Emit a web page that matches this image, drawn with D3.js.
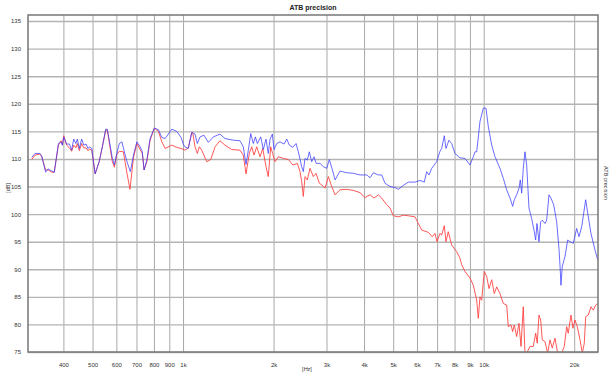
<!DOCTYPE html>
<html>
<head>
<meta charset="utf-8">
<script src="https://cdn.jsdelivr.net/npm/d3@7"></script>
<style>
	body { margin: 0; background: #fff; }
	svg { font-family: Arial, "Liberation Sans", sans-serif; }
	.grid line { stroke: #a8a8a8; }
	.grid .domain { display: none; }
	.ygrid line { stroke: #b4b4b4; stroke-width: 1.4px; }
	.ticklabels text { fill: #333; font-size: 6px; }
	.ticklabels line, .ticklabels .domain { display: none; }
	.frame { fill: none; stroke: #777; stroke-width: 1.5px; }
	.curve { fill: none; stroke-width: 1px; stroke-linejoin: round; }
</style>
</head>
<body>
<div id="chart"></div>
<script>

// frequency response, blue trace
var blueFreq = [314, 322, 334, 339, 349, 356, 366, 373, 385, 393, 397, 401, 410, 419, 426, 433, 440, 445, 452, 460,
	468, 476, 483, 488, 497, 510, 526, 539, 553, 560, 572, 582, 591, 602, 614, 626, 638, 651, 668, 684,
	702, 720, 732, 742, 758, 777, 803, 828, 850, 872, 917, 953, 985, 1002, 1015, 1041, 1069, 1096, 1116, 1139,
	1174, 1214, 1261, 1327, 1379, 1470, 1547, 1586, 1620, 1649, 1679, 1713, 1740, 1767, 1813, 1849, 1888, 1921, 1947, 1982,
	2007, 2049, 2102, 2167, 2213, 2257, 2317, 2376, 2418, 2481, 2512, 2545, 2590, 2630, 2679, 2727, 2772, 2855, 2929, 3006,
	3066, 3147, 3203, 3328, 3503, 3685, 3878, 4083, 4188, 4295, 4462, 4580, 4697, 4880, 5070, 5200, 5402, 5614, 5909, 6141,
	6346, 6463, 6578, 6716, 6977, 7155, 7249, 7396, 7491, 7664, 7825, 8025, 8338, 8667, 9004, 9235, 9356, 9478, 9721, 9970,
	10177, 10358, 10632, 10904, 11329, 11619, 11926, 12232, 12486, 12642, 12874, 13104, 13235, 13378, 13542, 13718, 13899, 14145, 14440, 14733,
	14890, 15038, 15272, 15473, 15663, 15991, 16198, 16488, 16741, 17091, 17489, 17798, 17950, 18075, 18255, 18636, 19024, 19364, 19860, 20383,
	20749, 21182, 21840, 22281, 22743, 23450, 23940];
var blueDb = [110.3, 111.0, 111.0, 110.5, 107.6, 108.2, 107.8, 107.6, 112.8, 113.1, 112.5, 114.0, 112.7, 112.7, 111.6, 113.6, 112.8, 113.6, 111.9, 113.6,
	112.5, 112.7, 111.9, 112.2, 111.9, 107.3, 109.5, 112.2, 115.4, 115.4, 112.5, 110.1, 108.9, 111.0, 112.8, 113.1, 111.3, 109.5, 107.7, 110.7,
	113.1, 112.2, 111.3, 108.0, 109.8, 113.7, 115.6, 115.3, 113.9, 113.7, 115.4, 115.0, 113.9, 112.7, 112.2, 111.9, 114.8, 114.5, 112.8, 114.0,
	114.3, 113.0, 114.0, 114.5, 113.7, 113.4, 113.3, 112.2, 109.0, 111.6, 114.6, 112.8, 114.0, 112.8, 114.0, 111.7, 113.6, 111.0, 113.6, 114.5,
	111.7, 112.8, 113.1, 112.7, 113.6, 112.5, 112.1, 112.8, 111.3, 108.6, 107.7, 110.1, 109.8, 111.3, 109.5, 110.4, 109.2, 109.2, 108.6, 108.3,
	109.9, 107.8, 106.2, 107.8, 107.5, 107.4, 107.1, 107.1, 106.6, 107.5, 107.1, 107.1, 105.6, 105.0, 104.8, 104.5, 105.2, 105.8, 105.8, 106.1,
	105.8, 107.7, 107.1, 108.3, 109.5, 111.4, 111.9, 114.2, 111.9, 113.4, 112.8, 111.0, 110.2, 110.1, 108.9, 110.4, 111.3, 111.3, 116.8, 119.2,
	119.2, 115.9, 112.5, 110.4, 108.3, 106.5, 104.4, 102.9, 101.4, 102.6, 103.5, 104.7, 106.2, 103.8, 108.3, 111.3, 108.9, 101.1, 99.2, 96.8,
	95.3, 98.3, 95.0, 98.6, 98.9, 98.3, 98.9, 103.5, 102.9, 101.7, 98.6, 93.8, 90.5, 87.1, 90.5, 92.3, 95.3, 95.0, 94.7, 97.4,
	95.9, 97.7, 102.6, 99.5, 96.5, 93.5, 91.7];

// frequency response, red trace
var redFreq = [314, 322, 334, 339, 349, 356, 366, 373, 385, 393, 397, 401, 410, 419, 426, 433, 440, 445, 452, 460,
	468, 476, 483, 488, 497, 510, 526, 539, 553, 560, 572, 582, 591, 602, 614, 633, 651, 666, 684, 702,
	720, 732, 742, 758, 777, 803, 828, 850, 872, 917, 953, 985, 1015, 1041, 1069, 1077, 1096, 1116, 1133, 1154,
	1199, 1236, 1278, 1327, 1379, 1452, 1547, 1586, 1620, 1661, 1692, 1722, 1758, 1804, 1841, 1888, 1921, 1957, 1986, 2023,
	2074, 2156, 2240, 2320, 2400, 2449, 2481, 2512, 2545, 2590, 2644, 2712, 2769, 2840, 2893, 2967, 3043, 3123, 3203, 3328,
	3503, 3685, 3878, 4030, 4188, 4318, 4462, 4580, 4758, 4880, 5005, 5200, 5402, 5614, 5909, 6061, 6220, 6543, 6745, 6887,
	6993, 7155, 7249, 7396, 7491, 7624, 7825, 8130, 8338, 8452, 8667, 9004, 9235, 9478, 9595, 9721, 9847, 10046, 10233, 10414,
	10632, 10845, 11047, 11329, 11619, 11926, 12073, 12326, 12486, 12642, 12874, 13104, 13306, 13542, 13718, 13899, 14256, 14617, 14890, 15070,
	15272, 15473, 15663, 15991, 16320, 16614, 16910, 17262, 17625, 18173, 18535, 18880, 19105, 19512, 19815, 20118, 20478, 20910, 21283, 21608,
	21840, 22281, 22743, 23149, 23576, 23940];
var redDb = [109.9, 110.7, 110.9, 110.4, 108.0, 108.0, 107.6, 107.6, 112.5, 113.3, 112.5, 114.2, 112.5, 112.0, 111.4, 112.5, 112.0, 112.8, 111.5, 112.8,
	112.0, 112.0, 111.5, 111.8, 111.6, 107.3, 109.5, 112.2, 115.2, 115.2, 112.0, 109.5, 108.5, 110.8, 111.4, 111.3, 107.4, 104.5, 110.2, 112.8,
	111.7, 111.0, 108.0, 109.5, 113.4, 115.6, 115.0, 113.1, 111.9, 112.5, 112.1, 111.9, 111.6, 112.0, 114.8, 114.8, 112.2, 111.0, 112.2, 111.6,
	109.5, 109.9, 112.2, 113.3, 112.5, 111.7, 111.6, 110.7, 107.3, 111.0, 112.2, 110.7, 112.2, 110.4, 111.9, 108.6, 106.8, 112.2, 111.0, 109.5,
	110.4, 110.1, 109.9, 108.9, 109.2, 107.7, 105.9, 103.2, 106.8, 106.2, 108.3, 106.8, 107.4, 105.6, 105.3, 104.7, 106.8, 105.0, 103.5, 104.4,
	104.5, 104.3, 103.9, 103.0, 103.5, 102.9, 103.5, 102.9, 101.7, 101.1, 99.7, 99.5, 99.8, 99.7, 99.5, 98.3, 97.1, 96.7, 95.9, 96.5,
	95.0, 96.5, 96.2, 97.9, 95.0, 96.8, 94.4, 93.2, 92.0, 90.8, 89.6, 88.4, 87.1, 84.4, 81.1, 85.0, 84.4, 89.6, 88.7, 86.5,
	88.1, 85.6, 86.8, 85.6, 83.8, 83.5, 79.6, 79.9, 78.7, 79.9, 77.8, 80.2, 76.0, 83.2, 74.8, 74.8, 76.0, 76.0, 78.4, 76.6,
	81.7, 80.8, 77.2, 76.9, 74.8, 77.2, 75.7, 77.5, 74.8, 74.8, 76.0, 79.6, 78.4, 81.7, 79.3, 80.8, 79.6, 77.2, 74.8, 76.6,
	81.4, 81.7, 83.2, 82.6, 83.5, 83.8];

var xTickValues = [400, 500, 600, 700, 800, 900, 1000, 2000, 3000, 4000, 5000, 6000, 7000, 8000, 9000, 10000, 20000];
var xTickLabels = ['400', '500', '600', '700', '800', '900', '1k', '2k', '3k', '4k', '5k', '6k', '7k', '8k', '9k', '10k', '20k'];
var yTickValues = [75, 80, 85, 90, 95, 100, 105, 110, 115, 120, 125, 130, 135];

var width = 614;
var height = 376;
var plot = { left: 28, right: 598, top: 15, bottom: 352 };

var svg = d3.select('#chart').append('svg')
	.attr('width', width)
	.attr('height', height);

var x = d3.scaleLog().domain([305, 24000]).range([plot.left, plot.right]);
var y = d3.scaleLinear().domain([75, 136.1]).range([plot.bottom, plot.top]);

// grid
svg.append('g')
	.attr('class', 'grid')
	.attr('transform', 'translate(0,' + plot.bottom + ')')
	.call(d3.axisBottom(x).tickValues(xTickValues).tickSize(-(plot.bottom - plot.top)).tickFormat(''));

svg.append('g')
	.attr('class', 'grid ygrid')
	.attr('transform', 'translate(' + plot.left + ',0)')
	.call(d3.axisLeft(y).tickValues(yTickValues).tickSize(-(plot.right - plot.left)).tickFormat(''));

// tick labels
svg.append('g')
	.attr('class', 'ticklabels')
	.attr('transform', 'translate(0,' + (plot.bottom + 8) + ')')
	.call(d3.axisBottom(x).tickValues(xTickValues).tickSize(0)
		.tickFormat(function(d, i) { return xTickLabels[i]; }));

svg.append('g')
	.attr('class', 'ticklabels')
	.attr('transform', 'translate(' + (plot.left - 4) + ',0)')
	.call(d3.axisLeft(y).tickValues(yTickValues).tickSize(0));

// curves
svg.append('clipPath')
	.attr('id', 'plotclip')
	.append('rect')
	.attr('x', plot.left)
	.attr('y', plot.top)
	.attr('width', plot.right - plot.left)
	.attr('height', plot.bottom - plot.top);

var line = d3.line()
	.x(function(d) { return x(d[0]); })
	.y(function(d) { return y(d[1]); });

var curves = svg.append('g').attr('clip-path', 'url(#plotclip)');

curves.append('path')
	.attr('class', 'curve')
	.attr('stroke', '#ff3b3b')
	.attr('stroke-opacity', 0.85)
	.attr('d', line(d3.zip(redFreq, redDb)));

curves.append('path')
	.attr('class', 'curve')
	.attr('stroke', '#3a3aff')
	.attr('stroke-opacity', 0.75)
	.attr('d', line(d3.zip(blueFreq, blueDb)));

svg.append('rect')
	.attr('class', 'frame')
	.attr('x', plot.left)
	.attr('y', plot.top)
	.attr('width', plot.right - plot.left)
	.attr('height', plot.bottom - plot.top);

// texts
svg.append('text')
	.attr('x', (plot.left + plot.right) / 2)
	.attr('y', 10)
	.attr('text-anchor', 'middle')
	.style('font-size', '7px')
	.style('font-weight', 'bold')
	.style('fill', '#222')
	.text('ATB precision');

svg.append('text')
	.attr('x', 307)
	.attr('y', 371)
	.attr('text-anchor', 'middle')
	.style('font-size', '5.5px')
	.style('fill', '#333')
	.text('[Hz]');

svg.append('text')
	.attr('transform', 'translate(10,188) rotate(-90)')
	.attr('text-anchor', 'middle')
	.style('font-size', '5.5px')
	.style('fill', '#333')
	.text('[dB]');

svg.append('text')
	.attr('transform', 'translate(604,183) rotate(90)')
	.attr('text-anchor', 'middle')
	.style('font-size', '5.5px')
	.style('fill', '#333')
	.text('ATB precision');

</script>
</body>
</html>
